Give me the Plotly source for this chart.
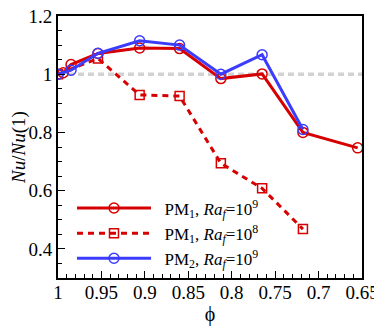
import plotly.graph_objects as go

phi_pm1 = [1.0, 0.994, 0.985, 0.954, 0.906, 0.86, 0.8125, 0.765, 0.718, 0.655]
nu_pm1_ra9 = [1.0, 1.005, 1.033, 1.071, 1.09, 1.088, 0.985, 1.001, 0.80, 0.747]

phi_pm1_ra8 = [1.0, 0.954, 0.906, 0.86, 0.8125, 0.765, 0.718]
nu_pm1_ra8 = [1.0, 1.054, 0.929, 0.925, 0.694, 0.608, 0.468]

phi_pm2 = [1.0, 0.985, 0.954, 0.906, 0.86, 0.8125, 0.765, 0.718]
nu_pm2_ra9 = [1.0, 1.014, 1.072, 1.115, 1.1, 1.0, 1.067, 0.81]

x_ticks = [1, 0.95, 0.9, 0.85, 0.8, 0.75, 0.7, 0.65]
x_labels = ["1", "0.95", "0.9", "0.85", "0.8", "0.75", "0.7", "0.65"]
y_ticks = [0.4, 0.6, 0.8, 1.0, 1.2]
y_labels = ["0.4", "0.6", "0.8", "1", "1.2"]

names = ["\u2002PM<sub>1</sub>, <i>Ra<sub>f</sub></i>=10<sup>9</sup>",
         "\u2002PM<sub>1</sub>, <i>Ra<sub>f</sub></i>=10<sup>8</sup>",
         "\u2002PM<sub>2</sub>, <i>Ra<sub>f</sub></i>=10<sup>9</sup>"]

RED = "rgb(215,0,0)"
BLUE = "rgb(60,60,255)"
FAMILY = "Liberation Serif"

fig = go.Figure()
fig.add_hline(y=1.0, line=dict(color="rgb(210,210,210)", width=3.5, dash="6px,4px"), layer="below")

fig.add_trace(go.Scatter(x=phi_pm1, y=nu_pm1_ra9, name=names[0], mode="lines+markers",
                         line=dict(color=RED, width=3),
                         marker=dict(symbol="circle-open", size=10, color=RED, line=dict(width=1.5))))
fig.add_trace(go.Scatter(x=phi_pm1_ra8, y=nu_pm1_ra8, name=names[1], mode="lines+markers",
                         line=dict(color=RED, width=3, dash="6px,5px"),
                         marker=dict(symbol="square-open", size=9, color=RED, line=dict(width=1.5))))
fig.add_trace(go.Scatter(x=phi_pm2, y=nu_pm2_ra9, name=names[2], mode="lines+markers",
                         line=dict(color=BLUE, width=3),
                         marker=dict(symbol="circle-open", size=10, color=BLUE, line=dict(width=1.5))))

fig.update_layout(
    width=374, height=320,
    margin=dict(l=50, r=20, t=8, b=50),
    paper_bgcolor="white", plot_bgcolor="white",
    font=dict(family=FAMILY, size=19, color="black"),
    showlegend=True,
    legend=dict(x=0.046, y=0.334, xanchor="left", yanchor="top",
                bgcolor="rgba(0,0,0,0)", font=dict(family=FAMILY, size=17), itemwidth=74,
                tracegroupgap=0),
    xaxis=dict(range=[1.0, 0.65], tickvals=x_ticks, ticktext=x_labels,
               ticks="inside", ticklen=7, tickwidth=1, tickcolor="black",
               tickfont=dict(family=FAMILY, size=19), automargin=False,
               ticklabelstandoff=-4, ticklabeloverflow="allow",
               minor=dict(dtick=0.01, tick0=0, ticks="inside", ticklen=4, tickcolor="black"),
               showline=True, linecolor="black", linewidth=2, mirror=True,
               showgrid=False, zeroline=False,
               title=dict(text="ϕ", standoff=0, font=dict(family=FAMILY, size=20))),
    yaxis=dict(range=[0.3, 1.2], tickvals=y_ticks, ticktext=y_labels,
               ticks="inside", ticklen=7, tickwidth=1, tickcolor="black",
               tickfont=dict(family=FAMILY, size=19), automargin=False,
               ticklabeloverflow="allow",
               minor=dict(dtick=0.05, tick0=0, ticks="inside", ticklen=4, tickcolor="black"),
               showline=True, linecolor="black", linewidth=2, mirror=True,
               showgrid=False, zeroline=False,
               title=dict(text="<i>Nu</i>/<i>Nu</i>(1)", standoff=2, font=dict(family=FAMILY, size=19))),
)

fig.write_html("out.html")
